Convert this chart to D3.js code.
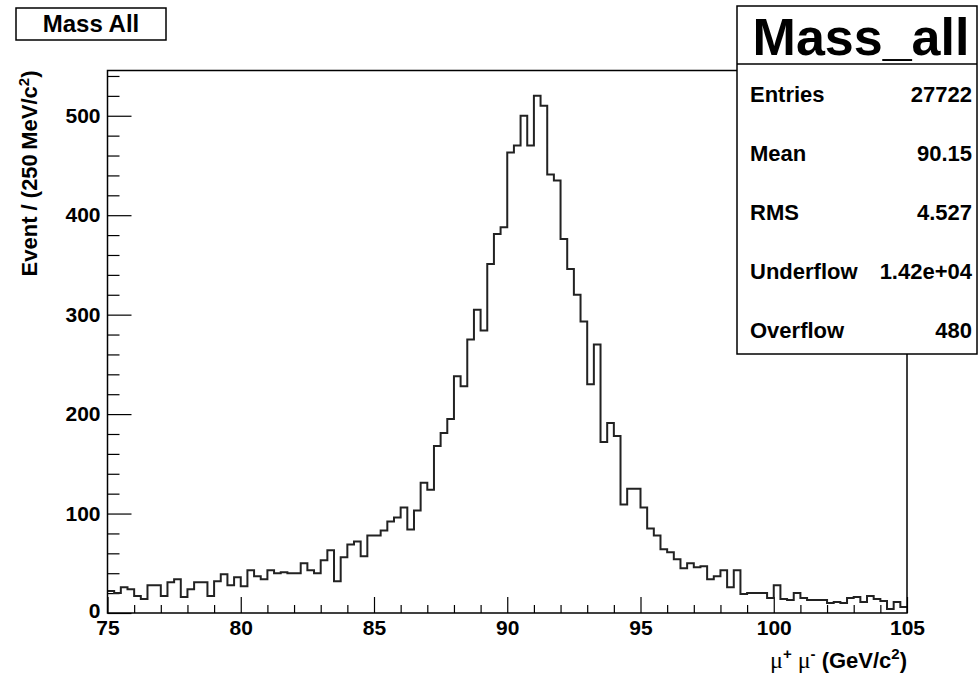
<!DOCTYPE html>
<html><head><meta charset="utf-8">
<script src="https://cdn.jsdelivr.net/npm/d3@7"></script>
<style>
body{margin:0;background:#fff;}
svg text{font-family:"Liberation Sans",Arial,Helvetica,sans-serif;font-weight:bold;fill:#000;}
</style></head><body>
<svg id="c" width="979" height="677"></svg>
<script>
// ---- data ----
const histTitle = "Mass All";
const histName = "Mass_all";
const binLow = 75, binHigh = 105, binWidth = 0.25;
const counts = [
 22,20,26,24,17,14,28,28,17,31,
 34,16,24,31,31,17,32,39,28,36,
 27,43,37,34,43,40,41,40,40,50,
 43,40,53,63,32,56,69,72,57,78,
 78,83,92,96,106,84,103,131,124,168,
 181,195,238,228,275,305,284,351,381,388,
 463,470,500,470,520,510,441,435,376,346,
 320,293,230,270,172,191,178,109,125,125,
 106,85,78,64,61,54,45,50,46,47,
 34,37,43,26,43,19,20,20,20,15,
 28,14,13,20,15,13,13,13,10,11,
 10,15,16,11,17,14,12,4,11,6
];
const xMajorTicks = [75,80,85,90,95,100,105];
const yMajorTicks = [0,100,200,300,400,500];
const statLabels = ["Entries","Mean","RMS","Underflow","Overflow"];
const statValues = ["27722","90.15","4.527","1.42e+04","480"];
const yMax = 545.5;

// ---- layout ----
const svg = d3.select("#c");
svg.append("rect").attr("width",979).attr("height",677).attr("fill","#fff");
const pL = 107.5, pR = 907, pT = 70.5, pB = 613;
const x = d3.scaleLinear().domain([binLow, binHigh]).range([pL, pR]);
const y = d3.scaleLinear().domain([0, yMax]).range([pB, pT]);

// minor ticks
const xMinor = d3.range(binLow, binHigh + 0.001, 1).filter(v => !xMajorTicks.includes(v));
const yMinor = d3.range(0, yMax, 20).filter(v => !yMajorTicks.includes(v));

const gxm = svg.append("g").attr("transform", `translate(0,${pB})`)
  .call(d3.axisBottom(x).tickValues(xMinor).tickSize(-8).tickFormat(""));
gxm.select(".domain").remove();
const gx = svg.append("g").attr("transform", `translate(0,${pB})`)
  .call(d3.axisBottom(x).tickValues(xMajorTicks).tickSize(-16).tickPadding(7).tickFormat(d3.format("d")));
gx.select(".domain").remove();
gx.selectAll("text").style("font-size","21px").attr("fill","#000");

const gym = svg.append("g").attr("transform", `translate(${pL},0)`)
  .call(d3.axisLeft(y).tickValues(yMinor).tickSize(-12).tickFormat(""));
gym.select(".domain").remove();
const gy = svg.append("g").attr("transform", `translate(${pL},0)`)
  .call(d3.axisLeft(y).tickValues(yMajorTicks).tickSize(-24).tickPadding(7).tickFormat(d3.format("d")));
gy.select(".domain").remove();
gy.selectAll("text").style("font-size","21px").attr("fill","#000");
// the "0" label sits just above the x-axis "75", as in the reference
gy.selectAll(".tick").filter(d => d === 0).select("text").attr("dy","0.2em");
svg.selectAll(".tick line").attr("stroke","#000").attr("stroke-width",1.2);

// histogram step outline
const pts = [];
counts.forEach((c, i) => {
  const lo = binLow + i * binWidth;
  pts.push([x(lo), y(c)]);
  pts.push([x(lo + binWidth), y(c)]);
});
svg.append("path").attr("d", d3.line()(pts))
  .attr("fill","none").attr("stroke","#222").attr("stroke-width",2);

// frame
svg.append("rect").attr("x",pL).attr("y",pT).attr("width",pR-pL).attr("height",pB-pT)
  .attr("fill","none").attr("stroke","#000").attr("stroke-width",1.5);

// y title
const yt = svg.append("text").attr("transform", `translate(37,${pT}) rotate(-90)`)
  .attr("text-anchor","end").style("font-size","22px");
yt.append("tspan").text("Event / (250\u2009MeV/c");
yt.append("tspan").attr("dy",-8).style("font-size","15px").text("2");
yt.append("tspan").attr("dy",8).text(")");

// x title
const serif = "'Liberation Serif','Times New Roman',serif";
const xt = svg.append("text").attr("x", pR).attr("y", 668).attr("text-anchor","end").style("font-size","22px");
xt.append("tspan").style("font-family",serif).style("font-weight","normal").style("font-size","24px").text("\u03bc");
xt.append("tspan").attr("dy",-9).style("font-size","15px").text("+");
xt.append("tspan").attr("dy",9).style("font-family",serif).style("font-weight","normal").style("font-size","24px").text(" \u03bc");
xt.append("tspan").attr("dy",-9).style("font-size","15px").text("-");
xt.append("tspan").attr("dy",9).text(" (GeV/c");
xt.append("tspan").attr("dy",-9).style("font-size","15px").text("2");
xt.append("tspan").attr("dy",9).text(")");

// title box
svg.append("rect").attr("x",16).attr("y",8).attr("width",150).attr("height",32)
  .attr("fill","#fff").attr("stroke","#000").attr("stroke-width",1.5);
svg.append("text").attr("x",91).attr("y",32).attr("text-anchor","middle").style("font-size","24px").text(histTitle);

// stats box
const sx0 = 737, sx1 = 977, sy0 = 6, sy1 = 354;
svg.append("rect").attr("x",sx0).attr("y",sy0).attr("width",sx1-sx0).attr("height",sy1-sy0)
  .attr("fill","#fff").attr("stroke","#000").attr("stroke-width",1.5);
svg.append("line").attr("x1",sx0).attr("x2",sx1).attr("y1",64).attr("y2",64).attr("stroke","#000").attr("stroke-width",1.5);
svg.append("text").attr("x",(sx0+sx1)/2 + 4).attr("y",55).attr("text-anchor","middle").style("font-size","52px").text(histName);
statLabels.forEach((l, i) => {
  const by = 102 + i * 59;
  svg.append("text").attr("x",750).attr("y",by).style("font-size","22px").text(l);
  svg.append("text").attr("x",972).attr("y",by).attr("text-anchor","end").style("font-size","22px").text(statValues[i]);
});
</script>
</body></html>
